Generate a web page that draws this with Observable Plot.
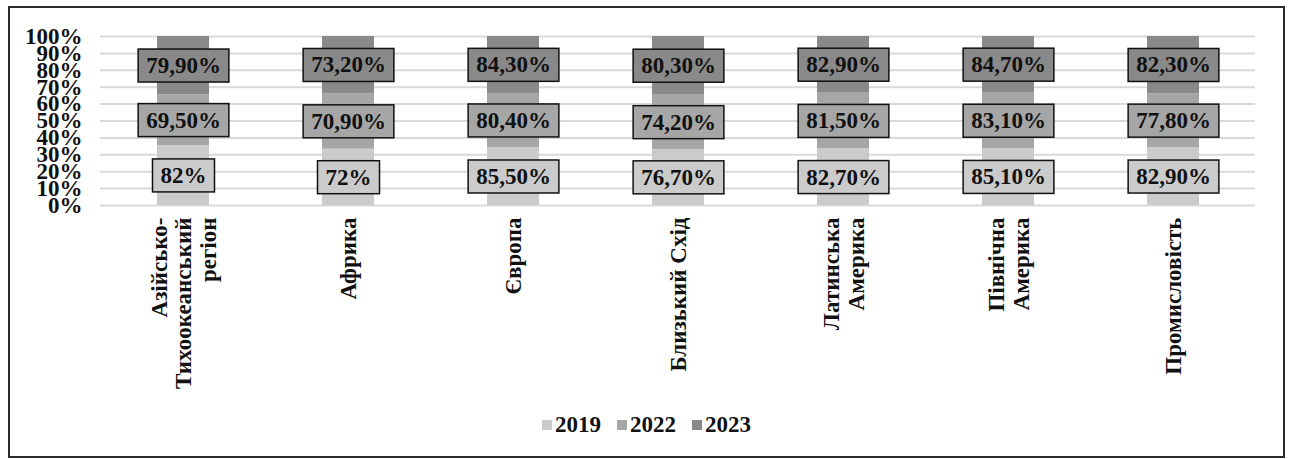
<!DOCTYPE html>
<html>
<head>
<meta charset="utf-8">
<script src="https://cdn.jsdelivr.net/npm/d3@7"></script>
<script src="https://cdn.jsdelivr.net/npm/@observablehq/plot@0.6"></script>
<style>
  body { margin: 0; background: #fff; }
  #frame {
    position: absolute; left: 8px; top: 6px;
    width: 1273px; height: 448px;
    border: 2px solid #2b2b2b; background: #fff;
  }
  #legend {
    height: 34px; display: flex; justify-content: center; align-items: center;
    font-family: "Liberation Serif", serif; font-weight: bold; font-size: 23px; color: #111;
  }
  #legend .item { display: flex; align-items: center; margin: 0 8px; }
  #legend .sw { width: 10px; height: 10px; margin-right: 3px; }
</style>
</head>
<body>
<div id="frame"><div id="chart"></div><div id="legend"></div></div>
<script>
const categories = [
  "Азійсько-\nТихоокеанський\nрегіон",
  "Африка",
  "Європа",
  "Близький Схід",
  "Латинська\nАмерика",
  "Північна\nАмерика",
  "Промисловість"
];
const years = ["2019", "2022", "2023"];
const values2019 = [82, 72, 85.5, 76.7, 82.7, 85.1, 82.9];
const values2022 = [69.5, 70.9, 80.4, 74.2, 81.5, 83.1, 77.8];
const values2023 = [79.9, 73.2, 84.3, 80.3, 82.9, 84.7, 82.3];
const yTicks = [0, 0.1, 0.2, 0.3, 0.4, 0.5, 0.6, 0.7, 0.8, 0.9, 1];
const yTickLabels = ["0%", "10%", "20%", "30%", "40%", "50%", "60%", "70%", "80%", "90%", "100%"];
const colors = ["#cbcbcb", "#a6a6a6", "#898989"];

const series = [values2019, values2022, values2023];
const data = years.flatMap((year, s) => categories.map((cat, i) => ({cat, year, value: series[s][i]})));
const fmt = v => Number.isInteger(v) ? `${v}%` : v.toFixed(2).replace(".", ",") + "%";

const plot = Plot.plot({
  width: 1273,
  height: 400,
  marginTop: 28,
  marginBottom: 203,
  marginLeft: 90,
  marginRight: 28,
  style: {fontFamily: "'Liberation Serif', serif", fontWeight: "bold", fontSize: "23px", color: "#111", background: "#fff"},
  x: {domain: categories, paddingInner: 0.685, paddingOuter: 0.3425, axis: null},
  y: {domain: [0, 1], axis: null},
  color: {domain: years, range: colors},
  marks: [
    Plot.ruleY(yTicks, {stroke: "#d9d9d9", strokeWidth: 2}),
    Plot.barY(data, Plot.stackY({x: "cat", y: "value", z: "year", fill: "year", offset: "normalize"})),
    Plot.text(data, Plot.stackY({
      x: "cat", y: "value", z: "year", offset: "normalize",
      text: d => fmt(d.value), ariaLabel: "value labels",
      fill: "#111", fontSize: 23, fontWeight: "bold"
    })),
    Plot.axisY({ticks: yTicks, tickFormat: d => yTickLabels[yTicks.indexOf(d)], tickSize: 0, tickPadding: 18, fontSize: 23, label: null}),
    Plot.text(categories, {
      x: d => d, frameAnchor: "bottom", rotate: -90, textAnchor: "end",
      lineAnchor: "middle", dy: 12, lineHeight: 1.08, fontSize: 23, fontWeight: "bold", fill: "#111"
    })
  ]
});
document.getElementById("chart").appendChild(plot);

// boxes behind value labels (sized from the rendered text)
const labelSet = new Set(data.map(d => fmt(d.value)));
try {
  const ns = "http://www.w3.org/2000/svg";
  const texts = [...plot.querySelectorAll("text")].filter(t => {
    const p = t.parentNode;
    return p && p.getAttribute && p.getAttribute("aria-label") === "value labels";
  });
  const list = texts.length ? texts : [...plot.querySelectorAll("text")].filter(t => labelSet.has(t.textContent) && /[,]|^82%$|^72%$/.test(t.textContent));
  list.forEach((t, k) => {
    const idx = typeof t.__data__ === "number" && data[t.__data__] ? t.__data__ : k;
    const s = years.indexOf(data[idx].year);
    const b = t.getBBox();
    const r = document.createElementNS(ns, "rect");
    const padX = 8, padY = 5;
    r.setAttribute("x", b.x - padX);
    r.setAttribute("y", b.y - padY + 1);
    r.setAttribute("width", b.width + 2 * padX);
    r.setAttribute("height", b.height + 2 * padY - 2);
    const tr = t.getAttribute("transform");
    if (tr) r.setAttribute("transform", tr);
    r.setAttribute("fill", colors[s]);
    r.setAttribute("stroke", "#111");
    r.setAttribute("stroke-width", 1.5);
    t.parentNode.insertBefore(r, t);
  });
} catch (e) {}

// legend
const legend = document.getElementById("legend");
years.forEach((y, i) => {
  const item = document.createElement("div");
  item.className = "item";
  const sw = document.createElement("div");
  sw.className = "sw";
  sw.style.background = colors[i];
  const lab = document.createElement("span");
  lab.textContent = y;
  item.appendChild(sw);
  item.appendChild(lab);
  legend.appendChild(item);
});
</script>
</body>
</html>
